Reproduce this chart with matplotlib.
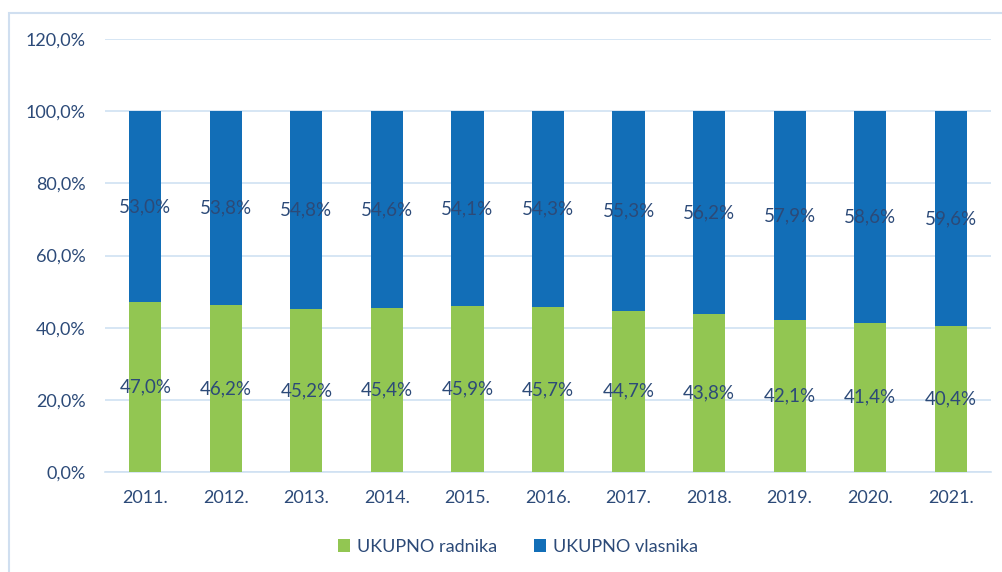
import matplotlib
matplotlib.use("Agg")
import matplotlib.pyplot as plt
import numpy as np
from matplotlib.patches import Rectangle

years = ["2011.", "2012.", "2013.", "2014.", "2015.", "2016.", "2017.",
         "2018.", "2019.", "2020.", "2021."]
radnika = [47.0, 46.2, 45.2, 45.4, 45.9, 45.7, 44.7, 43.8, 42.1, 41.4, 40.4]
vlasnika = [53.0, 53.8, 54.8, 54.6, 54.1, 54.3, 55.3, 56.2, 57.9, 58.6, 59.6]
yticks = [0, 20, 40, 60, 80, 100, 120]

GREEN = "#92C652"
BLUE = "#126EB7"
TEXT = "#2C4A78"
GRID = "#D0E1F2"

plt.rcParams["font.family"] = ["Lato", "DejaVu Sans"]

fig = plt.figure(figsize=(10.03, 5.72), dpi=100)
ax = fig.add_axes([105 / 1003, 1 - 472 / 572, 886 / 1003, 433 / 572])

x = np.arange(len(years))
b1 = ax.bar(x, radnika, width=0.4, color=GREEN, label="UKUPNO radnika", zorder=3)
b2 = ax.bar(x, vlasnika, width=0.4, bottom=radnika, color=BLUE,
            label="UKUPNO vlasnika", zorder=3)

fmt = lambda v: f"{v:.1f}%".replace(".", ",")
for i in range(len(years)):
    ax.text(x[i], radnika[i] / 2, fmt(radnika[i]), ha="center", va="center",
            fontsize=13.5, color=TEXT, zorder=4)
    ax.text(x[i], radnika[i] + vlasnika[i] / 2, fmt(vlasnika[i]), ha="center",
            va="center", fontsize=13.5, color=TEXT, zorder=4)

ax.set_xlim(-0.5, len(years) - 0.5)
ax.set_ylim(0, 120)
ax.set_yticks(yticks)
ax.set_yticklabels([f"{t:.1f}%".replace(".", ",") for t in yticks])
ax.set_xticks(x)
ax.set_xticklabels(years)
ax.tick_params(axis="both", length=0, labelsize=13, labelcolor=TEXT)
ax.tick_params(axis="y", pad=14)
ax.tick_params(axis="x", pad=13)
ax.grid(axis="y", color=GRID, linewidth=1.2, zorder=0)
for s in ("top", "right", "left"):
    ax.spines[s].set_visible(False)
ax.spines["bottom"].set_color(GRID)
ax.spines["bottom"].set_linewidth(1.2)

fig.legend(handles=[b1, b2], loc="center", bbox_to_anchor=(518 / 1003, 1 - 547 / 572),
           ncol=2, frameon=False, fontsize=13, labelcolor=TEXT,
           handlelength=0.7, handleheight=0.7, columnspacing=2.0, handletextpad=0.4)

fig.patches.append(Rectangle((9 / 1003, -0.05), 1.1, 1 - 13 / 572 + 0.05,
                             transform=fig.transFigure, fill=False,
                             edgecolor="#D0DFF0", linewidth=1.5))

fig.savefig("out.png", dpi=100)
